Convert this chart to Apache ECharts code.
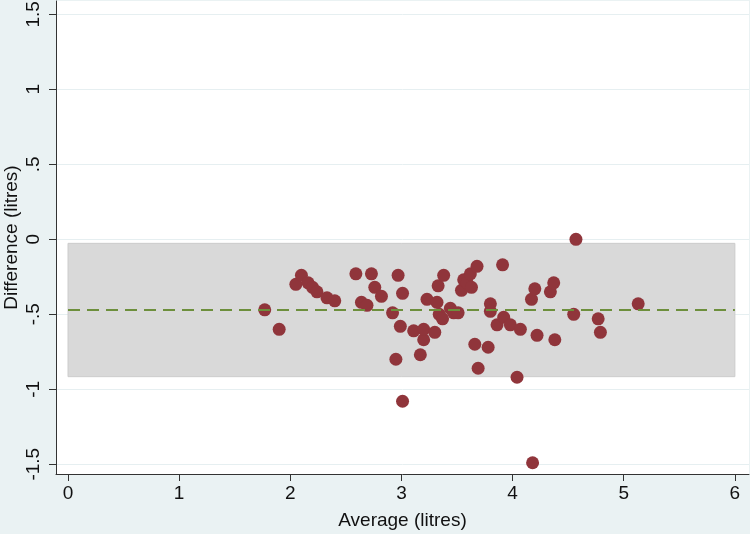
<!DOCTYPE html>
<html>
<head>
<meta charset="utf-8">
<script src="https://cdn.jsdelivr.net/npm/echarts@6/dist/echarts.min.js"></script>
<style>
html,body{margin:0;padding:0;background:#eaf2f3;}
#chart{width:750px;height:534px;}
</style>
</head>
<body>
<div id="chart"></div>
<script>
// Data
var avgValues = [1.77,1.90,2.05,2.10,2.16,2.20,2.24,2.33,2.40,2.59,2.64,2.69,2.73,2.76,2.82,2.92,2.95,2.97,2.99,3.01,3.01,3.11,3.17,3.20,3.20,3.23,3.30,3.32,3.33,3.38,3.34,3.37,3.44,3.47,3.51,3.54,3.56,3.59,3.62,3.63,3.68,3.66,3.69,3.78,3.80,3.80,3.91,3.86,3.92,3.98,4.07,4.04,4.18,4.17,4.20,4.22,4.34,4.37,4.38,4.55,4.57,4.77,4.79,5.13];
var diffValues = [-0.47,-0.60,-0.30,-0.24,-0.29,-0.32,-0.35,-0.39,-0.41,-0.23,-0.42,-0.44,-0.23,-0.32,-0.38,-0.49,-0.80,-0.24,-0.58,-0.36,-1.08,-0.61,-0.77,-0.67,-0.60,-0.40,-0.62,-0.42,-0.31,-0.24,-0.50,-0.53,-0.46,-0.49,-0.49,-0.34,-0.27,-0.29,-0.23,-0.32,-0.18,-0.70,-0.86,-0.72,-0.43,-0.48,-0.17,-0.57,-0.52,-0.57,-0.60,-0.92,-1.49,-0.40,-0.33,-0.64,-0.35,-0.29,-0.67,-0.50,0.00,-0.53,-0.62,-0.43];
var meanDiff = -0.47;
var upperLimit = -0.027;
var lowerLimit = -0.916;
var bandStart = 0;
var bandEnd = 6;
var xTicks = [0,1,2,3,4,5,6];
var yTicks = [-1.5,-1,-0.5,0,0.5,1,1.5];
var yTickLabels = ['-1.5','-1','-.5','0','.5','1','1.5'];

var points = avgValues.map(function(v,i){return [v, diffValues[i]];});
var font = 'Liberation Sans, Arial, sans-serif';
var chart = echarts.init(document.getElementById('chart'));
chart.setOption({
  backgroundColor: '#eaf2f3',
  animation: false,
  grid: {left: 56, right: 1, top: 1, bottom: 60, show: true, backgroundColor: '#ffffff', borderWidth: 0, outerBoundsMode: 'none', containLabel: false},
  xAxis: {
    type: 'value', min: -0.108, max: 6.127,
    name: 'Average (litres)', nameLocation: 'middle', nameGap: 37, nameMoveOverlap: false,
    nameTextStyle: {fontFamily: font, fontSize: 19, color: '#111'},
    axisLine: {show: true, onZero: false, lineStyle: {color: '#333', width: 1}},
    axisTick: {show: true, customValues: xTicks, length: 7, lineStyle: {color: '#333'}},
    axisLabel: {customValues: xTicks, margin: 10, fontFamily: font, fontSize: 19, color: '#111'},
    splitLine: {show: false}
  },
  yAxis: {
    type: 'value', min: -1.565, max: 1.589,
    name: 'Difference (litres)', nameLocation: 'middle', nameGap: 35, nameMoveOverlap: false,
    nameTextStyle: {fontFamily: font, fontSize: 19, color: '#111'},
    axisLine: {show: true, onZero: false, lineStyle: {color: '#333', width: 1}},
    axisTick: {show: true, customValues: yTicks, length: 7, lineStyle: {color: '#333'}},
    axisLabel: {customValues: yTicks, rotate: 90, margin: 13, fontFamily: font, fontSize: 19, color: '#111',
      formatter: function(v){ var i = yTicks.indexOf(+v.toFixed(2)); return i >= 0 ? yTickLabels[i] : ''; }},
    splitLine: {show: true, lineStyle: {color: '#e6eff1', width: 1}}
  },
  series: [
    {
      type: 'scatter', data: [], z: 1, silent: true,
      markArea: {
        silent: true,
        itemStyle: {color: '#d9d9d9', borderColor: '#cccccc', borderWidth: 1},
        data: [[{coord: [bandStart, upperLimit]}, {coord: [bandEnd, lowerLimit]}]]
      },
      markLine: {
        silent: true, symbol: 'none', label: {show: false},
        lineStyle: {color: '#6d8f3c', width: 2, type: [12, 7]},
        data: [[{coord: [bandStart, meanDiff]}, {coord: [bandEnd, meanDiff]}]]
      }
    },
    {
      type: 'scatter', data: points, z: 3,
      symbol: 'circle', symbolSize: 13,
      itemStyle: {color: '#90353b', opacity: 1}
    }
  ]
});
</script>
</body>
</html>
